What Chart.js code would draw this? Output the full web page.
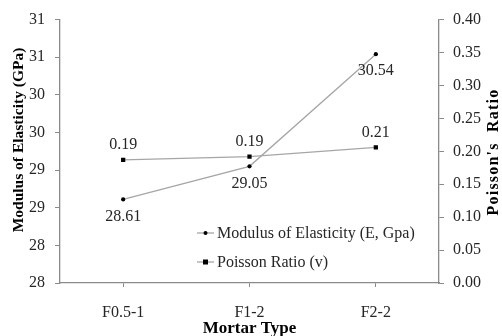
<!DOCTYPE html>
<html>
<head>
<meta charset="utf-8">
<script src="https://cdn.jsdelivr.net/npm/chart.js@4.4.1/dist/chart.umd.min.js"></script>
<style>
  html, body { margin: 0; padding: 0; background: #fff; }
  #wrap { width: 502px; height: 336px; }
</style>
</head>
<body>
<div id="wrap"><canvas id="c" width="502" height="336"></canvas></div>
<script>
// Mortar mixes on the category axis
const mortarTypes = ['F0.5-1', 'F1-2', 'F2-2'];
// Modulus of elasticity, GPa (left axis)
const modulusValues = [28.61, 29.05, 30.54];
// Poisson's ratio (right axis)
const poissonValues = [0.187, 0.192, 0.206];
// Axis ranges and tick steps
const modulusAxis = { min: 27.5, max: 31, step: 0.5 };
const poissonAxis = { min: 0, max: 0.4, step: 0.05 };

const SERIF = '"Liberation Serif", "Times New Roman", serif';
const AXIS_GREY = '#8a8a8a';
const LINE_GREY = '#a6a6a6';
const TEXT = '#262626';

// Value labels next to each point
const valueLabels = {
  id: 'valueLabels',
  afterDatasetsDraw(chart) {
    const ctx = chart.ctx;
    ctx.save();
    ctx.font = '16px ' + SERIF;
    ctx.fillStyle = TEXT;
    ctx.textAlign = 'center';
    ctx.textBaseline = 'middle';
    chart.data.datasets.forEach((ds, i) => {
      const meta = chart.getDatasetMeta(i);
      meta.data.forEach((pt, j) => {
        const v = ds.data[j];
        const txt = v.toFixed(2);
        const dy = ds.labelBelow ? 17 : -15;
        ctx.fillText(txt, pt.x, pt.y + dy);
      });
    });
    ctx.restore();
  }
};

// Axis titles and the in-plot legend
const titlesAndLegend = {
  id: 'titlesAndLegend',
  afterDraw(chart) {
    const ctx = chart.ctx;
    const area = chart.chartArea;
    ctx.save();
    ctx.fillStyle = '#000';
    ctx.textAlign = 'center';
    ctx.textBaseline = 'middle';
    // x title
    ctx.font = 'bold 17px ' + SERIF;
    ctx.fillText('Mortar Type', (area.left + area.right) / 2, 329);
    // left title
    ctx.save();
    ctx.font = 'bold 15.5px ' + SERIF;
    ctx.translate(18.5, 140);
    ctx.rotate(-Math.PI / 2);
    ctx.fillText('Modulus of Elasticity (GPa)', 0, 0);
    ctx.restore();
    // right title
    ctx.save();
    ctx.font = 'bold 16px ' + SERIF;
    if ('letterSpacing' in ctx) ctx.letterSpacing = '1.2px';
    ctx.translate(493.5, 152);
    ctx.rotate(-Math.PI / 2);
    ctx.fillText("Poisson's  Ratio", 0, 0);
    ctx.restore();

    // legend
    const rows = [233, 262];
    ctx.font = '16px ' + SERIF;
    ctx.textAlign = 'left';
    chart.data.datasets.forEach((ds, i) => {
      const y = rows[i];
      ctx.strokeStyle = ds.borderColor;
      ctx.lineWidth = ds.borderWidth;
      ctx.beginPath();
      ctx.moveTo(197, y);
      ctx.lineTo(214, y);
      ctx.stroke();
      ctx.fillStyle = '#000';
      if (ds.pointStyle === 'rect') {
        ctx.fillRect(205.5 - 2.5, y - 2.5, 5, 5);
      } else {
        ctx.beginPath();
        ctx.arc(205.5, y, 2, 0, Math.PI * 2);
        ctx.fill();
      }
      ctx.fillStyle = TEXT;
      ctx.fillText(ds.label, 217, y + 1);
    });
    ctx.restore();
  }
};

new Chart(document.getElementById('c'), {
  type: 'line',
  data: {
    labels: mortarTypes,
    datasets: [
      {
        label: 'Modulus of Elasticity (E, Gpa)',
        data: modulusValues,
        yAxisID: 'y',
        borderColor: LINE_GREY,
        borderWidth: 1.3,
        pointStyle: 'circle',
        pointRadius: 2.1,
        pointBackgroundColor: '#000',
        pointBorderWidth: 0,
        labelBelow: true,
        tension: 0
      },
      {
        label: 'Poisson Ratio (v)',
        data: poissonValues,
        yAxisID: 'y1',
        borderColor: LINE_GREY,
        borderWidth: 1.3,
        pointStyle: 'rect',
        pointRadius: 3,
        pointBackgroundColor: '#000',
        pointBorderWidth: 0,
        labelBelow: false,
        tension: 0
      }
    ]
  },
  options: {
    responsive: false,
    animation: false,
    layout: { padding: { top: 17, left: 0, right: 0, bottom: 0 } },
    plugins: {
      legend: { display: false },
      tooltip: { enabled: false }
    },
    scales: {
      x: {
        offset: true,
        afterFit(s) { s.height = 53; },
        grid: { display: true, drawOnChartArea: false, offset: false, tickLength: 4, color: AXIS_GREY },
        border: { display: true, color: AXIS_GREY, width: 1.3 },
        ticks: { color: TEXT, font: { family: SERIF, size: 16 }, padding: 16 }
      },
      y: {
        position: 'left',
        min: modulusAxis.min,
        max: modulusAxis.max,
        afterFit(s) { s.width = 60; },
        grid: { display: true, drawOnChartArea: false, tickLength: 5, color: AXIS_GREY },
        border: { display: true, color: AXIS_GREY, width: 1.3 },
        ticks: {
          stepSize: modulusAxis.step,
          color: TEXT,
          font: { family: SERIF, size: 16 },
          padding: 10,
          callback: v => String(Math.round(v))
        }
      },
      y1: {
        position: 'right',
        min: poissonAxis.min,
        max: poissonAxis.max,
        afterFit(s) { s.width = 63; },
        grid: { display: true, drawOnChartArea: false, tickLength: 5, color: AXIS_GREY },
        border: { display: true, color: AXIS_GREY, width: 1.3 },
        ticks: {
          stepSize: poissonAxis.step,
          color: TEXT,
          font: { family: SERIF, size: 16 },
          padding: 9,
          callback: v => v.toFixed(2)
        }
      }
    }
  },
  plugins: [valueLabels, titlesAndLegend]
});
</script>
</body>
</html>
